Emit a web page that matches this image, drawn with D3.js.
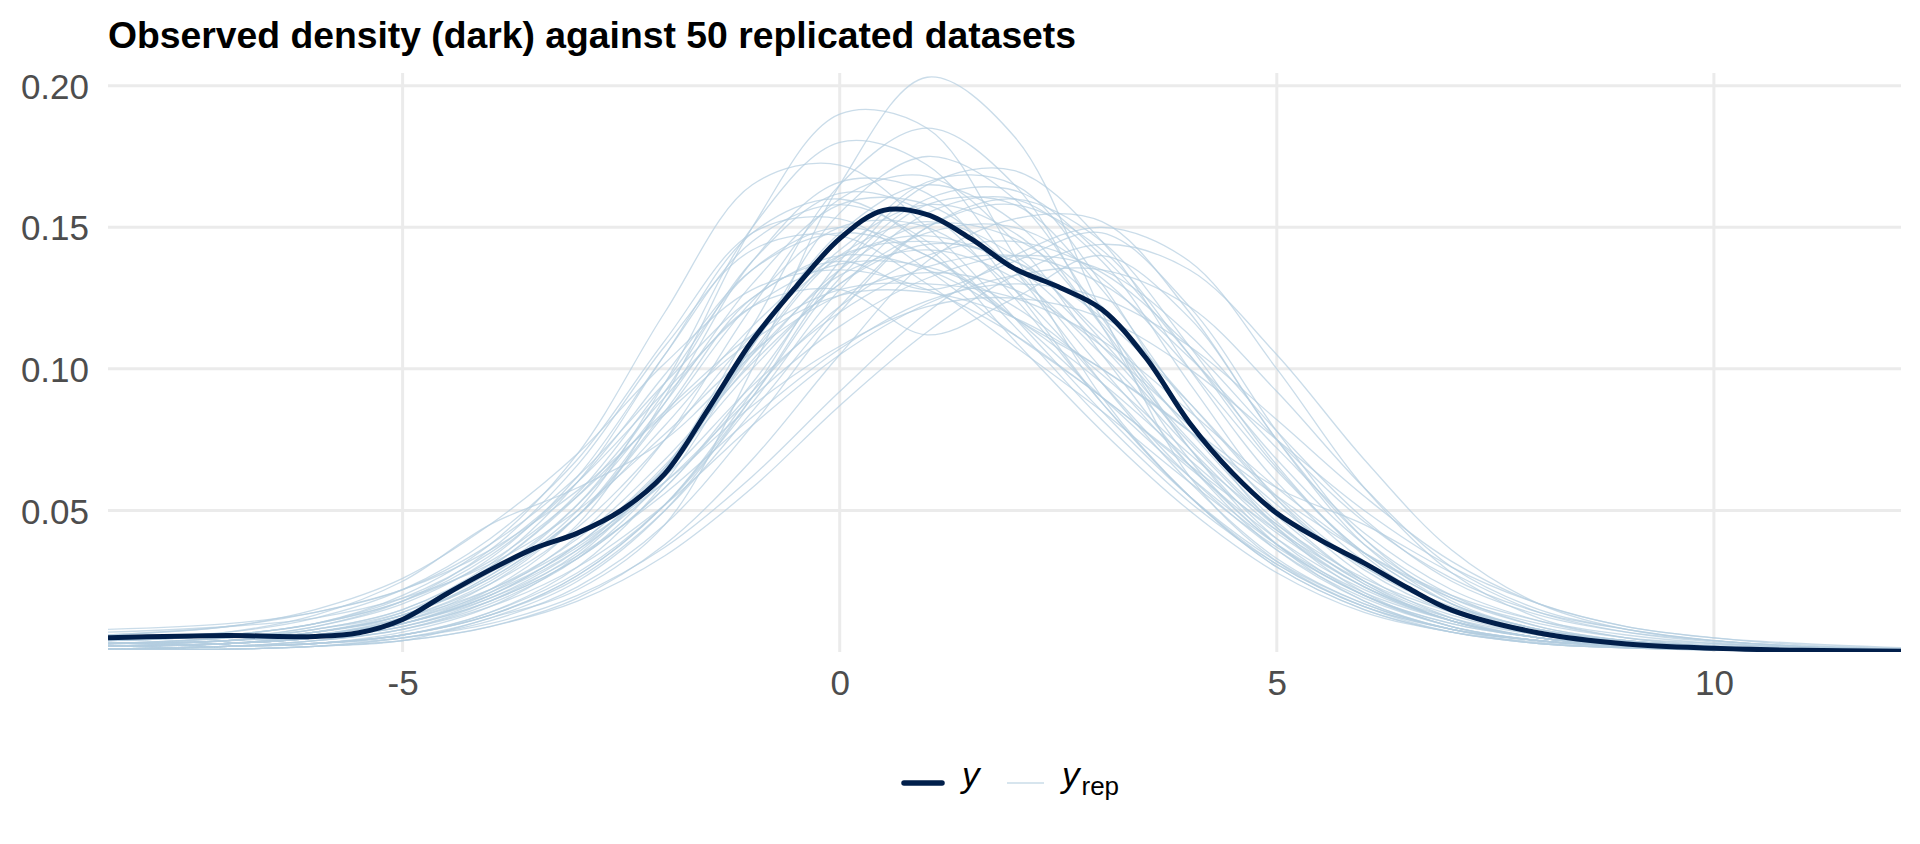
<!DOCTYPE html>
<html>
<head>
<meta charset="utf-8">
<script src="https://cdn.jsdelivr.net/npm/d3@7"></script>
<style>
  body { margin: 0; background: #fff; }
  svg { display: block; font-family: "Liberation Sans", Arial, sans-serif; }
</style>
</head>
<body>
<div id="chart"></div>
<script>
// grid of x positions where the replicated densities are read
var xGrid = [-8.37, -7, -6, -5, -4, -3, -2, -1, 0, 1, 2, 3, 4, 5, 6, 7, 8, 9, 10, 11, 12.14];

// observed density, read on a finer grid
var xObs = [-8.37, -7, -6, -5.5, -5, -4.5, -4, -3.5, -3, -2.5, -2, -1.5, -1, -0.5, 0, 0.5, 1, 1.5, 2, 2.5, 3, 3.5, 4, 4.5, 5, 5.5, 6, 6.5, 7, 8, 9, 10, 11, 12.14];
var yObs = [0.0050, 0.0058, 0.0055, 0.0068, 0.0115, 0.0205, 0.0290, 0.0365, 0.0420, 0.0500, 0.0630, 0.0860, 0.1100, 0.1290, 0.1460, 0.1560, 0.1545, 0.1460, 0.1354, 0.1290, 0.1210, 0.1040, 0.0810, 0.0630, 0.0490, 0.0395, 0.0314, 0.0226, 0.0148, 0.0067, 0.0028, 0.0013, 0.0006, 0.0003];

// 50 replicated densities
var yRep = [
  [0.001,0.001,0.002,0.004,0.012,0.022,0.045,0.100,0.165,0.203,0.182,0.120,0.062,0.032,0.016,0.007,0.003,0.0015,0.001,0.0005,0.0003],
  [0.002,0.003,0.005,0.010,0.022,0.045,0.090,0.150,0.190,0.185,0.140,0.090,0.055,0.030,0.015,0.007,0.003,0.0015,0.0008,0.0004,0.0002],
  [0.001,0.002,0.004,0.008,0.018,0.035,0.065,0.115,0.165,0.185,0.165,0.115,0.068,0.038,0.020,0.009,0.004,0.002,0.001,0.0005,0.0002],
  [0.003,0.004,0.007,0.013,0.027,0.050,0.095,0.150,0.180,0.172,0.135,0.095,0.060,0.033,0.017,0.008,0.004,0.002,0.001,0.0006,0.0003],
  [0.004,0.006,0.010,0.020,0.038,0.070,0.120,0.165,0.172,0.150,0.118,0.085,0.055,0.032,0.017,0.008,0.004,0.002,0.001,0.0005,0.0002],
  [0.001,0.001,0.002,0.005,0.012,0.025,0.050,0.090,0.135,0.165,0.170,0.145,0.100,0.060,0.032,0.015,0.007,0.003,0.0015,0.0008,0.0004],
  [0.002,0.003,0.005,0.009,0.018,0.033,0.058,0.095,0.135,0.160,0.163,0.140,0.105,0.068,0.038,0.019,0.009,0.004,0.002,0.001,0.0005],
  [0.003,0.005,0.008,0.015,0.030,0.055,0.090,0.122,0.128,0.112,0.125,0.140,0.118,0.075,0.040,0.020,0.009,0.004,0.002,0.001,0.0005],
  [0.004,0.006,0.010,0.018,0.032,0.055,0.085,0.112,0.128,0.130,0.125,0.110,0.085,0.058,0.035,0.019,0.010,0.005,0.003,0.0015,0.0008],
  [0.002,0.003,0.005,0.010,0.020,0.036,0.060,0.090,0.115,0.132,0.140,0.135,0.112,0.078,0.047,0.025,0.013,0.007,0.004,0.002,0.001],
  [0.003,0.005,0.008,0.014,0.028,0.052,0.088,0.130,0.158,0.158,0.135,0.100,0.066,0.038,0.020,0.010,0.005,0.0025,0.0012,0.0006,0.0003],
  [0.005,0.007,0.012,0.022,0.040,0.068,0.110,0.148,0.153,0.135,0.112,0.090,0.065,0.040,0.022,0.011,0.005,0.0025,0.0012,0.0006,0.0003],
  [0.002,0.003,0.006,0.011,0.022,0.040,0.068,0.102,0.130,0.148,0.150,0.132,0.100,0.064,0.035,0.017,0.008,0.004,0.002,0.001,0.0005],
  [0.003,0.004,0.007,0.013,0.026,0.048,0.080,0.115,0.140,0.145,0.138,0.118,0.088,0.055,0.030,0.015,0.007,0.0035,0.0017,0.0008,0.0004],
  [0.001,0.002,0.004,0.008,0.017,0.033,0.062,0.108,0.148,0.165,0.152,0.115,0.072,0.040,0.020,0.009,0.004,0.002,0.001,0.0005,0.0002],
  [0.001,0.002,0.003,0.006,0.013,0.026,0.050,0.085,0.122,0.150,0.158,0.142,0.105,0.065,0.035,0.017,0.008,0.004,0.002,0.001,0.0005],
  [0.008,0.010,0.014,0.022,0.038,0.062,0.095,0.125,0.140,0.135,0.118,0.095,0.068,0.042,0.023,0.012,0.006,0.003,0.0015,0.0007,0.0003],
  [0.002,0.003,0.005,0.010,0.020,0.038,0.066,0.103,0.135,0.151,0.146,0.122,0.088,0.054,0.029,0.014,0.007,0.0035,0.0017,0.0008,0.0004],
  [0.002,0.004,0.007,0.013,0.027,0.052,0.092,0.138,0.162,0.155,0.125,0.088,0.055,0.030,0.015,0.007,0.0035,0.0017,0.0008,0.0004,0.0002],
  [0.001,0.002,0.004,0.008,0.016,0.030,0.052,0.080,0.105,0.123,0.133,0.135,0.122,0.092,0.058,0.030,0.015,0.008,0.004,0.002,0.001],
  [0.001,0.002,0.003,0.006,0.013,0.027,0.052,0.092,0.138,0.166,0.165,0.130,0.082,0.044,0.021,0.009,0.004,0.002,0.001,0.0005,0.0002],
  [0.002,0.003,0.006,0.012,0.025,0.048,0.085,0.125,0.138,0.128,0.138,0.148,0.122,0.078,0.040,0.018,0.008,0.004,0.002,0.001,0.0005],
  [0.004,0.006,0.010,0.018,0.034,0.060,0.098,0.135,0.148,0.140,0.118,0.090,0.062,0.038,0.021,0.011,0.005,0.0025,0.0012,0.0006,0.0003],
  [0.002,0.003,0.005,0.009,0.018,0.033,0.058,0.092,0.122,0.140,0.145,0.134,0.108,0.075,0.046,0.026,0.014,0.008,0.004,0.002,0.001],
  [0.001,0.002,0.003,0.006,0.014,0.028,0.052,0.088,0.128,0.155,0.160,0.138,0.095,0.054,0.027,0.012,0.005,0.0025,0.0012,0.0006,0.0003],
  [0.006,0.009,0.015,0.026,0.045,0.070,0.102,0.128,0.135,0.128,0.112,0.090,0.066,0.043,0.025,0.013,0.006,0.003,0.0015,0.0007,0.0003],
  [0.002,0.003,0.005,0.010,0.021,0.041,0.075,0.122,0.160,0.168,0.145,0.105,0.066,0.036,0.018,0.008,0.004,0.002,0.001,0.0005,0.0002],
  [0.003,0.004,0.007,0.012,0.022,0.038,0.060,0.087,0.108,0.122,0.125,0.118,0.100,0.075,0.050,0.030,0.017,0.009,0.005,0.003,0.0015],
  [0.003,0.005,0.009,0.017,0.033,0.062,0.105,0.145,0.158,0.145,0.115,0.082,0.053,0.031,0.016,0.008,0.004,0.002,0.001,0.0005,0.0002],
  [0.001,0.001,0.002,0.005,0.010,0.020,0.037,0.062,0.092,0.120,0.140,0.150,0.138,0.100,0.058,0.028,0.012,0.005,0.002,0.001,0.0005],
  [0.001,0.002,0.003,0.007,0.016,0.034,0.064,0.105,0.140,0.152,0.140,0.110,0.075,0.045,0.024,0.011,0.005,0.002,0.001,0.0005,0.0002],
  [0.004,0.007,0.013,0.025,0.045,0.058,0.075,0.105,0.133,0.142,0.132,0.105,0.072,0.043,0.023,0.011,0.005,0.0025,0.0012,0.0006,0.0003],
  [0.001,0.002,0.003,0.005,0.011,0.023,0.045,0.080,0.120,0.150,0.160,0.145,0.108,0.066,0.034,0.015,0.006,0.003,0.0013,0.0006,0.0003],
  [0.004,0.006,0.010,0.019,0.035,0.060,0.092,0.122,0.137,0.136,0.122,0.098,0.070,0.045,0.026,0.014,0.007,0.0035,0.0017,0.0008,0.0004],
  [0.001,0.002,0.003,0.006,0.014,0.030,0.060,0.108,0.155,0.175,0.160,0.118,0.072,0.038,0.018,0.008,0.003,0.0015,0.0007,0.0003,0.0001],
  [0.002,0.003,0.005,0.010,0.019,0.034,0.056,0.083,0.107,0.124,0.130,0.125,0.108,0.082,0.055,0.032,0.017,0.009,0.005,0.0025,0.0012],
  [0.003,0.005,0.009,0.018,0.036,0.066,0.108,0.142,0.147,0.130,0.108,0.085,0.060,0.037,0.020,0.010,0.005,0.0025,0.0012,0.0006,0.0003],
  [0.001,0.001,0.002,0.004,0.009,0.019,0.038,0.068,0.105,0.138,0.153,0.152,0.120,0.075,0.038,0.017,0.007,0.003,0.0013,0.0006,0.0003],
  [0.002,0.003,0.005,0.010,0.020,0.038,0.065,0.100,0.130,0.144,0.138,0.112,0.080,0.058,0.045,0.028,0.014,0.007,0.0035,0.0017,0.0008],
  [0.002,0.003,0.006,0.011,0.024,0.048,0.088,0.138,0.166,0.162,0.128,0.088,0.055,0.031,0.016,0.008,0.004,0.002,0.001,0.0005,0.0002],
  [0.006,0.009,0.014,0.022,0.036,0.057,0.084,0.110,0.126,0.127,0.118,0.100,0.078,0.055,0.035,0.020,0.011,0.006,0.003,0.0015,0.0007],
  [0.002,0.003,0.005,0.009,0.019,0.036,0.065,0.106,0.142,0.158,0.148,0.116,0.078,0.046,0.024,0.011,0.005,0.0025,0.0012,0.0006,0.0003],
  [0.002,0.004,0.007,0.014,0.030,0.056,0.095,0.135,0.150,0.140,0.118,0.100,0.078,0.048,0.025,0.012,0.005,0.0025,0.0012,0.0006,0.0003],
  [0.003,0.004,0.006,0.011,0.021,0.037,0.062,0.094,0.120,0.136,0.140,0.130,0.104,0.072,0.042,0.022,0.011,0.005,0.0025,0.0012,0.0006],
  [0.001,0.002,0.003,0.006,0.013,0.027,0.052,0.090,0.132,0.158,0.158,0.128,0.086,0.050,0.025,0.011,0.005,0.002,0.001,0.0005,0.0002],
  [0.003,0.004,0.007,0.013,0.026,0.048,0.084,0.124,0.150,0.150,0.128,0.095,0.062,0.036,0.019,0.009,0.004,0.002,0.001,0.0005,0.0002],
  [0.007,0.009,0.012,0.019,0.031,0.050,0.077,0.106,0.126,0.134,0.128,0.108,0.080,0.052,0.030,0.016,0.008,0.004,0.002,0.001,0.0005],
  [0.001,0.001,0.002,0.004,0.009,0.018,0.034,0.058,0.087,0.113,0.133,0.144,0.135,0.105,0.068,0.036,0.017,0.008,0.004,0.002,0.001],
  [0.003,0.004,0.008,0.015,0.031,0.060,0.105,0.148,0.160,0.143,0.110,0.078,0.050,0.028,0.014,0.007,0.003,0.0015,0.0007,0.0003,0.0001],
  [0.002,0.004,0.006,0.012,0.024,0.044,0.075,0.112,0.139,0.147,0.136,0.108,0.074,0.044,0.023,0.011,0.005,0.0025,0.0012,0.0006,0.0003]
];

var xTicks = [-5, 0, 5, 10];
var yTicks = [0.05, 0.10, 0.15, 0.20];
var yTop = 0.2045;

var titleText = "Observed density (dark) against 50 replicated datasets";

var W = 1920, H = 844;
var margin = {top: 73, left: 108, right: 19, bottom: 192},
    width  = W - margin.left - margin.right,
    height = H - margin.top  - margin.bottom;

var darkCol = "#011f4b", lightCol = "#b3cde0", gridCol = "#ebebeb";

var svg = d3.select("#chart").append("svg")
    .attr("width", W)
    .attr("height", H);

svg.append("text")
    .attr("x", margin.left)
    .attr("y", 48)
    .attr("font-size", 37.3)
    .attr("font-weight", "bold")
    .attr("fill", "#000")
    .text(titleText);

var g = svg.append("g").attr("transform", "translate(" + margin.left + "," + margin.top + ")");

var x = d3.scaleLinear().domain([xGrid[0], xGrid[xGrid.length - 1]]).range([0, width]);
var y = d3.scaleLinear().domain([0, yTop]).range([height, 0]);

// grid
g.append("g").selectAll("line.h").data(yTicks).join("line")
    .attr("x1", 0).attr("x2", width)
    .attr("y1", function(d) { return y(d); }).attr("y2", function(d) { return y(d); })
    .attr("stroke", gridCol).attr("stroke-width", 3);

g.append("g").selectAll("line.v").data(xTicks).join("line")
    .attr("x1", function(d) { return x(d); }).attr("x2", function(d) { return x(d); })
    .attr("y1", 0).attr("y2", height)
    .attr("stroke", gridCol).attr("stroke-width", 3);

// axes (text only)
var yAxis = g.append("g")
    .call(d3.axisLeft(y).tickValues(yTicks).tickFormat(d3.format(".2f")).tickSize(0).tickPadding(19));
var xAxis = g.append("g")
    .attr("transform", "translate(0," + height + ")")
    .call(d3.axisBottom(x).tickValues(xTicks).tickFormat(function(d) { return d < 0 ? "-" + Math.abs(d) : d; }).tickSize(0).tickPadding(18));

[yAxis, xAxis].forEach(function(a) {
  a.select(".domain").remove();
  a.selectAll("text")
    .attr("font-family", "'Liberation Sans', Arial, sans-serif")
    .attr("font-size", 35)
    .attr("fill", "#4d4d4d");
});
xAxis.selectAll("text").attr("dy", "0.71em");
yAxis.selectAll("text").attr("dy", "0.36em");

// curves
g.append("clipPath").attr("id", "panel")
  .append("rect").attr("x", 0).attr("y", -2).attr("width", width).attr("height", height + 2);

var repLine = d3.line()
    .x(function(d, i) { return x(xGrid[i]); })
    .y(function(d) { return y(d); })
    .curve(d3.curveCatmullRom.alpha(0.5));

var obsLine = d3.line()
    .x(function(d, i) { return x(xObs[i]); })
    .y(function(d) { return y(d); })
    .curve(d3.curveCatmullRom.alpha(0.5));

var curves = g.append("g").attr("clip-path", "url(#panel)");

curves.selectAll("path.rep").data(yRep).join("path")
    .attr("class", "rep")
    .attr("d", repLine)
    .attr("fill", "none")
    .attr("stroke", lightCol)
    .attr("stroke-opacity", 0.7)
    .attr("stroke-width", 1.3);

curves.append("path")
    .datum(yObs)
    .attr("d", obsLine)
    .attr("fill", "none")
    .attr("stroke", darkCol)
    .attr("stroke-width", 5)
    .attr("stroke-linejoin", "round");

// legend
var leg = svg.append("g").attr("transform", "translate(0,783)");
leg.append("line").attr("x1", 904).attr("x2", 942).attr("y1", 0).attr("y2", 0)
    .attr("stroke", darkCol).attr("stroke-width", 5.5).attr("stroke-linecap", "round");
leg.append("text").attr("x", 962).attr("y", 4)
    .attr("font-size", 35).attr("font-style", "italic").text("y");
leg.append("line").attr("x1", 1007).attr("x2", 1044).attr("y1", 0).attr("y2", 0)
    .attr("stroke", lightCol).attr("stroke-opacity", 0.7).attr("stroke-width", 1.5);
var rep = leg.append("text").attr("x", 1062).attr("y", 4).attr("font-size", 35);
rep.append("tspan").attr("font-style", "italic").text("y");
rep.append("tspan").attr("font-size", 26).attr("dy", 8).attr("dx", 2).text("rep");
</script>
</body>
</html>
